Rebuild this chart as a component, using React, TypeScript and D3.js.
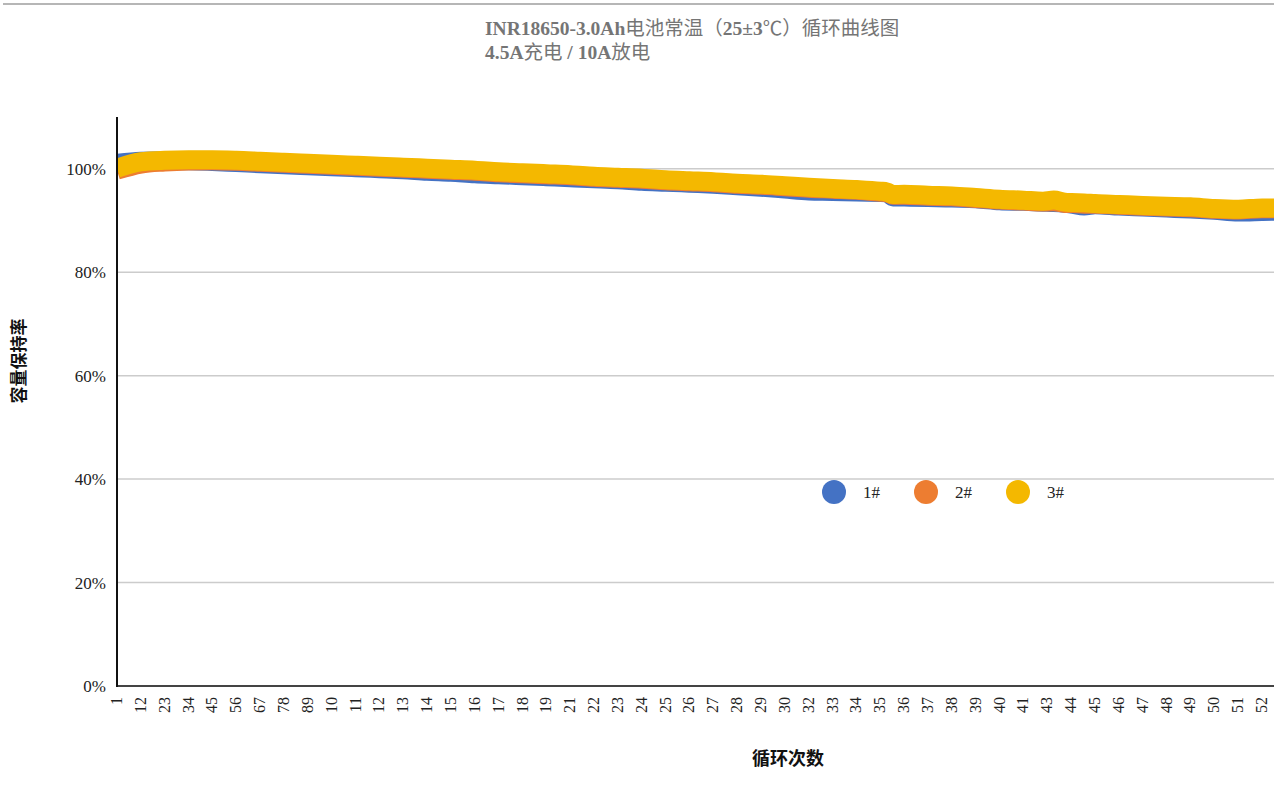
import * as d3 from 'd3'
import { useEffect, useRef } from 'react'

const cycles = [1, 12, 23, 34, 45, 56, 67, 78, 89, 100, 111, 122, 133, 144, 155, 166, 177, 188, 199, 210,
    221, 232, 243, 254, 265, 276, 287, 298, 309, 320, 331, 342, 353, 356, 359, 364, 375, 386, 397, 408,
    419, 428, 433, 438, 441, 447, 452, 463, 474, 485, 496, 507, 518, 529, 535]

const cell1 = [101.06, 101.45, 101.54, 101.54, 101.40, 101.18, 100.98, 100.78, 100.58, 100.38, 100.19, 100.00, 99.80, 99.51, 99.32, 99.03, 98.84, 98.65, 98.45, 98.26,
    98.07, 97.87, 97.58, 97.39, 97.20, 97.00, 96.72, 96.43, 96.06, 95.70, 95.62, 95.48, 95.42, 95.36, 94.55, 94.52, 94.46, 94.33, 94.21, 93.82,
    93.69, 93.54, 93.46, 93.31, 93.17, 92.80, 93.05, 92.78, 92.59, 92.39, 92.20, 91.95, 91.62, 91.72, 91.78]

const cell2 = [99.70, 100.90, 101.30, 101.50, 101.55, 101.45, 101.25, 101.05, 100.86, 100.67, 100.48, 100.28, 100.09, 99.90, 99.70, 99.51, 99.22, 99.03, 98.83, 98.64,
    98.35, 98.16, 97.97, 97.68, 97.48, 97.29, 97.00, 96.81, 96.52, 96.23, 96.04, 95.84, 95.46, 95.35, 94.85, 94.88, 94.70, 94.57, 94.26, 93.93,
    93.74, 93.56, 93.62, 93.30, 93.30, 93.15, 93.15, 92.92, 92.74, 92.60, 92.47, 92.18, 92.03, 92.26, 92.26]

const cell3 = [100.10, 101.35, 101.64, 101.74, 101.74, 101.64, 101.45, 101.25, 101.06, 100.87, 100.68, 100.48, 100.29, 100.10, 99.90, 99.71, 99.42, 99.23, 99.03, 98.84,
    98.55, 98.36, 98.17, 97.88, 97.68, 97.49, 97.20, 97.01, 96.72, 96.43, 96.18, 95.98, 95.66, 95.52, 95.00, 95.08, 94.88, 94.75, 94.44, 94.11,
    93.92, 93.73, 93.95, 93.55, 93.47, 93.40, 93.28, 93.09, 92.90, 92.76, 92.63, 92.32, 92.18, 92.43, 92.43]

const seriesNames = ['1#', '2#', '3#']
const seriesColors = ['#4472C4', '#ED7D31', '#F4B800']

const tickCycles = [1, 12, 23, 34, 45, 56, 67, 78, 89, 100, 111, 122, 133, 144, 155, 166, 177, 188, 199, 210,
    221, 232, 243, 254, 265, 276, 287, 298, 309, 320, 331, 342, 353, 364, 375, 386, 397, 408, 419, 430,
    441, 452, 463, 474, 485, 496, 507, 518, 529]
const tickLabels = ['1', '12', '23', '34', '45', '56', '67', '78', '89', '10', '11', '12', '13', '14', '15', '16', '17', '18', '19', '21',
    '22', '23', '24', '25', '26', '27', '28', '29', '30', '32', '33', '34', '35', '36', '37', '38', '39', '40', '41', '43',
    '44', '45', '46', '47', '48', '49', '50', '51', '52']
const yTicks = [0, 20, 40, 60, 80, 100]

const titleLine1 = 'INR18650-3.0Ah电池常温（25±3℃）循环曲线图'
const titleLine2 = '4.5A充电 / 10A放电'
const xTitle = '循环次数'
const yTitle = '容量保持率'

const W = 1274
const H = 792
const FONT = '"Liberation Serif", "Times New Roman", "Noto Sans CJK SC", serif'

// latin runs bold, CJK runs regular (as in the original title)
function addTitle(svg: any, str: string, y: number) {
    const t = svg.append('text')
        .attr('x', 485).attr('y', y)
        .attr('fill', '#757575').style('font-size', '19.5px')
    const parts = str.split(/([\x20-\x7E±]+)/).filter((s: string) => s.length > 0)
    parts.forEach((p: string) => {
        t.append('tspan')
            .attr('font-weight', /^[\x20-\x7E±]+$/.test(p) ? 'bold' : 'normal')
            .text(p)
    })
}

export default function App() {
    const svgRef = useRef(null) as any

    useEffect(() => {
        const left = 117, right = 1275, top = 117, bottom = 686

        const svg = d3.select(svgRef.current)
        svg.selectAll('*').remove()

        const xScale = d3.scaleLinear().domain([1, 535]).range([left, right])
        const yScale = d3.scaleLinear().domain([0, 110]).range([bottom, top])

        // top border line
        svg.append('line')
            .attr('x1', 3).attr('x2', W).attr('y1', 4).attr('y2', 4)
            .attr('stroke', '#9e9e9e').attr('stroke-width', 1.5)

        addTitle(svg, titleLine1, 35)
        addTitle(svg, titleLine2, 59)

        // gridlines
        svg.append('g')
            .selectAll('line')
            .data(yTicks.filter(d => d > 0))
            .join('line')
            .attr('x1', left).attr('x2', W)
            .attr('y1', d => yScale(d)).attr('y2', d => yScale(d))
            .attr('stroke', '#cccccc').attr('stroke-width', 1.5)

        // y tick labels
        svg.append('g')
            .selectAll('text')
            .data(yTicks)
            .join('text')
            .attr('x', 106)
            .attr('y', d => yScale(d) + 6)
            .attr('text-anchor', 'end')
            .attr('fill', '#222')
            .style('font-size', '17px')
            .text(d => d + '%')

        // series
        svg.append('clipPath').attr('id', 'plotclip')
            .append('rect')
            .attr('x', left).attr('y', 0).attr('width', W - left).attr('height', bottom)

        const makeLine = d3.line<number>()
            .x((_d, i) => xScale(cycles[i]))
            .y(d => yScale(d))
            .curve(d3.curveMonotoneX)

        const allSeries = [cell1, cell2, cell3]
        svg.append('g')
            .attr('clip-path', 'url(#plotclip)')
            .selectAll('path')
            .data(allSeries)
            .join('path')
            .attr('d', d => makeLine(d))
            .attr('fill', 'none')
            .attr('stroke', (_d, i) => seriesColors[i])
            .attr('stroke-width', 19)
            .attr('stroke-linejoin', 'round')

        // axes lines
        svg.append('line')
            .attr('x1', left).attr('x2', W).attr('y1', bottom).attr('y2', bottom)
            .attr('stroke', '#444').attr('stroke-width', 2)
        svg.append('line')
            .attr('x1', left).attr('x2', left).attr('y1', top).attr('y2', bottom + 1)
            .attr('stroke', '#111').attr('stroke-width', 2)

        // x tick labels
        svg.append('g')
            .selectAll('text')
            .data(tickCycles)
            .join('text')
            .attr('transform', d => `translate(${xScale(d) + 5},697) rotate(-90)`)
            .attr('text-anchor', 'end')
            .attr('fill', '#222')
            .style('font-size', '16px')
            .text((_d, i) => tickLabels[i])

        // axis titles
        svg.append('text')
            .attr('x', 788).attr('y', 765)
            .attr('text-anchor', 'middle')
            .attr('font-weight', 'bold').attr('fill', '#111')
            .style('font-size', '18px')
            .text(xTitle)
        svg.append('text')
            .attr('transform', 'translate(25,361) rotate(-90)')
            .attr('text-anchor', 'middle')
            .attr('font-weight', 'bold').attr('fill', '#111')
            .style('font-size', '17px')
            .text(yTitle)

        // legend
        const legend = svg.append('g')
            .selectAll('g')
            .data(seriesNames)
            .join('g')
            .attr('transform', (_d, i) => `translate(${834 + i * 92},492)`)
        legend.append('circle')
            .attr('r', 12)
            .attr('fill', (_d, i) => seriesColors[i])
        legend.append('text')
            .attr('x', 29).attr('y', 6)
            .attr('fill', '#222')
            .style('font-size', '17px')
            .text(d => d)
    }, [])

    return (
        <div style={{ position: 'absolute', left: 0, top: 0 }}>
            <svg ref={svgRef} width={W} height={H} style={{ fontFamily: FONT, display: 'block', background: '#fff' }} />
        </div>
    )
}
